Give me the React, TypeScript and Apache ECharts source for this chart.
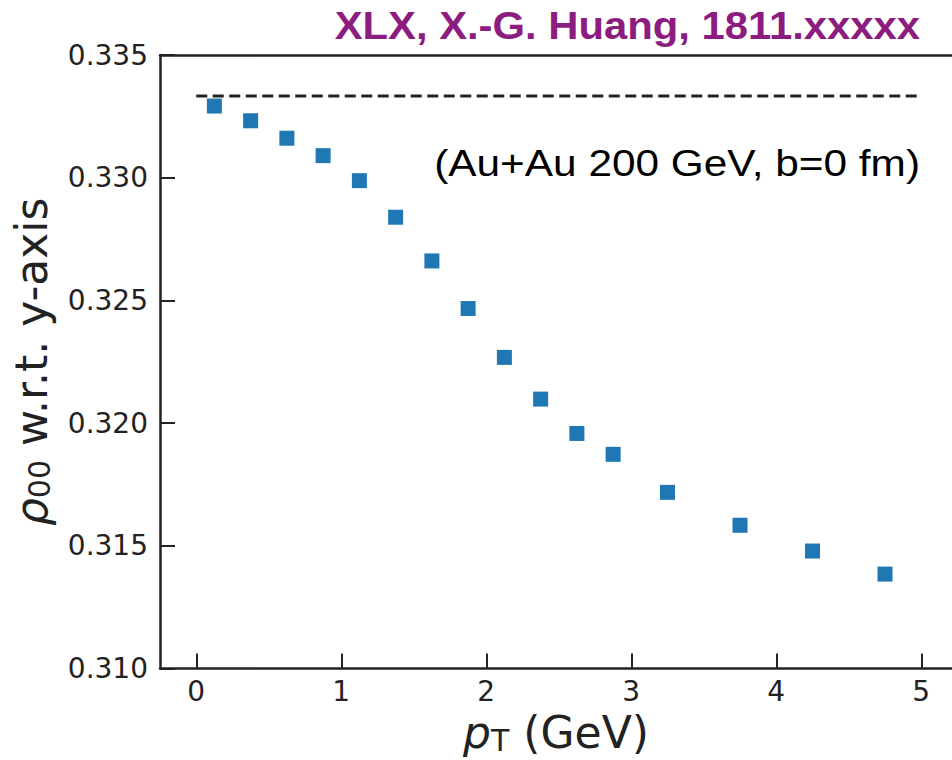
import React, { useEffect, useRef } from "react";
import * as echarts from "echarts";

const pT: number[] = [0.125, 0.375, 0.625, 0.875, 1.125, 1.375, 1.625, 1.875, 2.125, 2.375, 2.625, 2.875, 3.25, 3.75, 4.25, 4.75];
const rho00: number[] = [0.33292, 0.33232, 0.33161, 0.3309, 0.32988, 0.32839, 0.32661, 0.32467, 0.32268, 0.32098, 0.31958, 0.31873, 0.31718, 0.31584, 0.31479, 0.31385];
const refLineX: number[] = [0, 5];
const refLineY: number = 1 / 3;
const xTicks: number[] = [0, 1, 2, 3, 4, 5];
const xMin = -0.25;
const xMax = 5.212;
const yMin = 0.31;
const yMax = 0.335;
const yStep = 0.005;
const titleText = "XLX, X.-G. Huang, 1811.xxxxx";
const noteText = "(Au+Au 200 GeV, b=0 fm)";

export default function App() {
  const ref = useRef<HTMLDivElement>(null);
  useEffect(() => {
    if (!ref.current) return;
    const chart = echarts.init(ref.current, null, { renderer: "svg" });
    const axisColor = "#222";
    const tickFont = "DejaVu Sans";
    chart.setOption({
      animation: false,
      backgroundColor: "#fff",
      grid: {
        left: 160,
        top: 55,
        right: 0,
        bottom: 91,
        show: false,
      },
      xAxis: [
        {
          type: "value",
          min: xMin,
          max: xMax,
          name: "{p|p}{sub|T}{n| (GeV)}",
          nameLocation: "middle",
          nameGap: 41,
          nameTextStyle: {
            rich: {
              p: { fontFamily: tickFont, fontStyle: "italic", fontSize: 44, color: axisColor },
              sub: { fontFamily: tickFont, fontSize: 30, color: axisColor, padding: [15, 0, 0, 0] },
              n: { fontFamily: tickFont, fontSize: 44, color: axisColor },
            },
          },
          axisLine: { show: true, onZero: false, lineStyle: { color: axisColor, width: 2.5 } },
          axisTick: { show: true, inside: true, length: 15, customValues: xTicks, lineStyle: { color: axisColor, width: 2 } },
          axisLabel: {
            customValues: xTicks,
            margin: 9,
            fontFamily: tickFont,
            fontSize: 28,
            color: axisColor,
            formatter: (v: number) => String(v),
          },
          splitLine: { show: false },
        },
        {
          type: "value",
          position: "top",
          min: xMin,
          max: xMax,
          axisLine: { show: true, onZero: false, lineStyle: { color: axisColor, width: 2.5 } },
          axisTick: { show: false },
          axisLabel: { show: false },
          splitLine: { show: false },
        },
      ],
      yAxis: {
        type: "value",
        min: yMin,
        max: yMax,
        interval: yStep,
        name: "{r|ρ}{sub|00}{n| w.r.t. y-axis}",
        nameLocation: "middle",
        nameGap: 106,
        nameRotate: 90,
        nameTextStyle: {
          rich: {
            r: { fontFamily: tickFont, fontStyle: "italic", fontSize: 44, color: axisColor },
            sub: { fontFamily: tickFont, fontSize: 30, color: axisColor, padding: [15, 0, 0, 0] },
            n: { fontFamily: tickFont, fontSize: 44, color: axisColor },
          },
        },
        axisLine: { show: true, onZero: false, lineStyle: { color: axisColor, width: 2.5 } },
        axisTick: { show: true, inside: true, length: 15, lineStyle: { color: axisColor, width: 2 } },
        axisLabel: {
          margin: 12,
          fontFamily: tickFont,
          fontSize: 28,
          color: axisColor,
          formatter: (v: number) => v.toFixed(3),
        },
        splitLine: { show: false },
      },
      graphic: [
        {
          type: "text",
          x: 920,
          y: 26,
          scaleX: 1.1,
          style: {
            text: titleText,
            fontFamily: "Liberation Sans",
            fontWeight: "bold",
            fontSize: 38,
            fill: "#8c1c7f",
            align: "right",
            verticalAlign: "middle",
          },
        },
        {
          type: "text",
          x: 920,
          y: 163,
          scaleX: 1.145,
          style: {
            text: noteText,
            fontFamily: "Liberation Sans",
            fontSize: 37,
            fill: "#000",
            align: "right",
            verticalAlign: "middle",
          },
        },
      ],
      series: [
        {
          type: "line",
          data: refLineX.map((x) => [x, refLineY]),
          symbol: "none",
          lineStyle: { color: "#222", width: 3, type: [11, 5.5] },
          z: 1,
        },
        {
          type: "scatter",
          data: pT.map((x, i) => [x, rho00[i]]),
          symbol: "rect",
          symbolSize: 15,
          itemStyle: { color: "#1f77b4", opacity: 1 },
          z: 2,
        },
      ],
    });
    return () => chart.dispose();
  }, []);
  return <div ref={ref} style={{ position: "fixed", left: 0, top: 0, width: 952, height: 760, background: "#fff" }} />;
}
